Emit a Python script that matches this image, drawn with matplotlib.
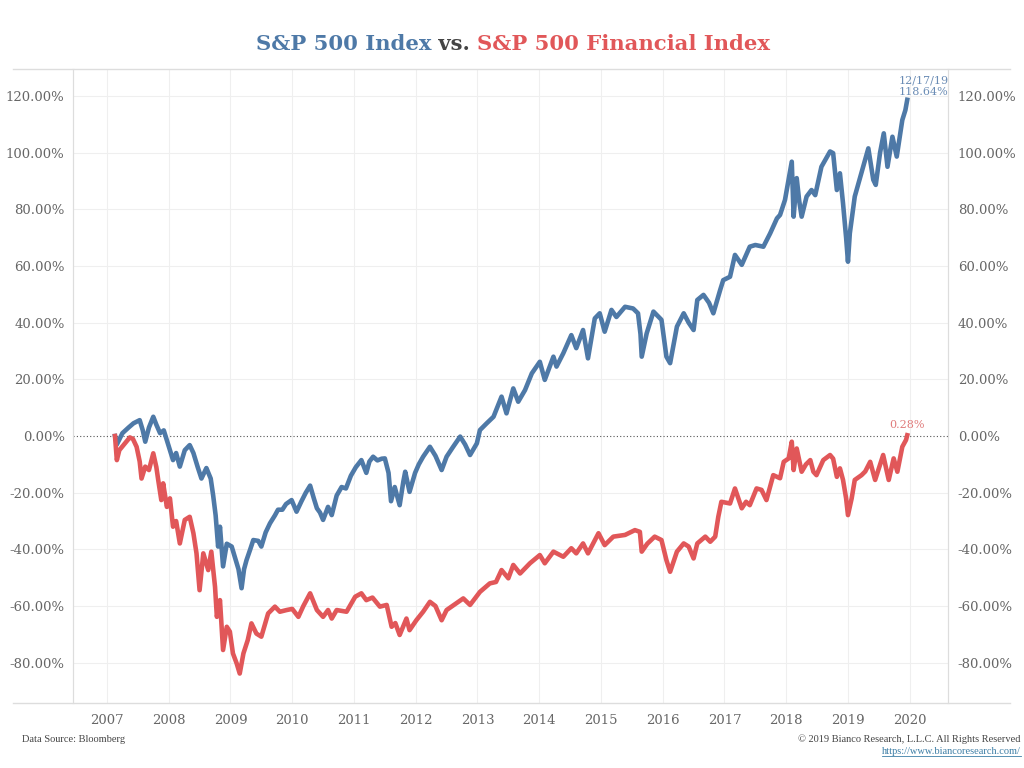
import matplotlib
matplotlib.use("Agg")
import matplotlib.pyplot as plt
from matplotlib.lines import Line2D
import numpy as np

BLUE = "#4e79a7"
RED = "#e15759"

blue_x = [2007.13, 2007.16, 2007.25, 2007.35, 2007.43, 2007.53, 2007.58, 2007.62, 2007.68, 2007.75,
          2007.80, 2007.86, 2007.92, 2008.02, 2008.07, 2008.12, 2008.18, 2008.26, 2008.34, 2008.40,
          2008.47, 2008.53, 2008.61, 2008.68, 2008.72, 2008.76, 2008.80, 2008.83, 2008.88, 2008.94,
          2009.02, 2009.07, 2009.13, 2009.18, 2009.22, 2009.26, 2009.32, 2009.37, 2009.45, 2009.50,
          2009.57, 2009.64, 2009.72, 2009.77, 2009.84, 2009.90, 2009.99, 2010.07, 2010.15, 2010.22,
          2010.29, 2010.35, 2010.40, 2010.45, 2010.50, 2010.58, 2010.64, 2010.72, 2010.80, 2010.87,
          2010.95, 2011.03, 2011.12, 2011.20, 2011.25, 2011.31, 2011.38, 2011.45, 2011.50, 2011.56,
          2011.60, 2011.66, 2011.74, 2011.80, 2011.83, 2011.90, 2011.99, 2012.05, 2012.12, 2012.23,
          2012.32, 2012.42, 2012.50, 2012.60, 2012.72, 2012.80, 2012.88, 2012.99, 2013.04, 2013.15,
          2013.26, 2013.39, 2013.47, 2013.58, 2013.66, 2013.77, 2013.88, 2014.01, 2014.09, 2014.23,
          2014.28, 2014.39, 2014.52, 2014.60, 2014.71, 2014.79, 2014.90, 2014.98, 2015.06, 2015.17,
          2015.25, 2015.39, 2015.52, 2015.60, 2015.64, 2015.66, 2015.74, 2015.85, 2015.98, 2016.06,
          2016.12, 2016.23, 2016.34, 2016.42, 2016.50, 2016.56, 2016.66, 2016.75, 2016.82, 2016.93,
          2016.98, 2017.09, 2017.17, 2017.28, 2017.41, 2017.50, 2017.63, 2017.74, 2017.85, 2017.90,
          2017.98, 2018.09, 2018.12, 2018.17, 2018.21, 2018.25, 2018.33, 2018.41, 2018.47, 2018.57,
          2018.71, 2018.76, 2018.82, 2018.87, 2018.92, 2018.97, 2019.00, 2019.03, 2019.11, 2019.20,
          2019.33, 2019.41, 2019.45, 2019.52, 2019.58, 2019.64, 2019.72, 2019.79, 2019.88, 2019.93,
          2019.96]
blue_y = [0.0, -3.0, 1.0, 3.0, 4.5, 5.6, 2.0, -2.0, 3.0, 6.8,
          4.0, 1.0, 2.0, -5.0, -8.5, -6.0, -10.8, -5.0, -3.2, -6.0,
          -11.0, -15.0, -11.3, -15.0, -21.0, -28.0, -39.0, -32.0, -46.0, -38.0,
          -39.0, -42.6, -47.0, -53.7, -47.0, -43.8, -40.0, -36.7, -37.0, -39.0,
          -34.0, -30.8, -28.0, -26.0, -26.0, -24.0, -22.6, -26.7, -23.0, -20.0,
          -17.5, -22.0, -25.5, -27.0, -29.6, -25.0, -27.9, -21.0, -18.0, -18.5,
          -14.0, -11.0, -8.5, -13.0, -9.0, -7.3, -8.6, -8.0, -7.9, -13.0,
          -23.0, -18.0, -24.4, -16.0, -12.6, -19.7, -13.0, -10.0, -7.3, -3.8,
          -7.0, -12.0, -7.3, -4.0, -0.2, -3.0, -6.7, -2.6, 2.1, 4.5,
          6.8, 13.9, 8.0, 16.8, 12.1, 16.2, 22.1, 26.2, 19.8, 28.0,
          24.5, 29.2, 35.6, 31.0, 37.4, 27.4, 41.5, 43.3, 36.8, 44.5,
          42.0, 45.6, 45.0, 43.3, 36.0, 28.0, 36.2, 43.9, 41.0, 28.0,
          25.7, 38.6, 43.3, 40.0, 37.4, 48.0, 49.8, 47.0, 43.3, 51.5,
          55.0, 56.2, 63.9, 60.4, 66.8, 67.4, 66.8, 71.5, 76.8, 78.0,
          83.3, 96.8, 77.4, 91.0, 83.0, 77.4, 84.5, 86.8, 85.0, 95.0,
          100.4, 99.8, 86.8, 92.7, 82.1, 70.0, 61.5, 71.5, 84.5, 91.5,
          101.5, 90.4, 88.6, 100.0, 106.8, 95.0, 105.6, 98.6, 111.5, 115.0,
          118.64]

red_x = [2007.13, 2007.16, 2007.20, 2007.29, 2007.37, 2007.42, 2007.48, 2007.53, 2007.56, 2007.62,
         2007.68, 2007.75, 2007.80, 2007.83, 2007.88, 2007.91, 2007.97, 2008.02, 2008.07, 2008.12,
         2008.18, 2008.26, 2008.34, 2008.40, 2008.45, 2008.50, 2008.56, 2008.64, 2008.69, 2008.75,
         2008.78, 2008.83, 2008.88, 2008.94, 2008.99, 2009.04, 2009.10, 2009.15, 2009.21, 2009.28,
         2009.34, 2009.42, 2009.50, 2009.61, 2009.72, 2009.80, 2009.91, 2010.00, 2010.10, 2010.18,
         2010.29, 2010.40, 2010.50, 2010.58, 2010.64, 2010.72, 2010.88, 2011.02, 2011.12, 2011.20,
         2011.30, 2011.42, 2011.53, 2011.61, 2011.67, 2011.74, 2011.85, 2011.90, 2012.01, 2012.12,
         2012.23, 2012.32, 2012.42, 2012.50, 2012.69, 2012.77, 2012.88, 2013.04, 2013.20, 2013.30,
         2013.39, 2013.50, 2013.58, 2013.69, 2013.85, 2014.01, 2014.09, 2014.23, 2014.39, 2014.52,
         2014.60, 2014.71, 2014.79, 2014.96, 2015.06, 2015.20, 2015.39, 2015.55, 2015.63, 2015.66,
         2015.75, 2015.87, 2015.98, 2016.06, 2016.12, 2016.23, 2016.34, 2016.42, 2016.50, 2016.56,
         2016.69, 2016.77, 2016.85, 2016.90, 2016.95, 2017.09, 2017.17, 2017.28, 2017.35, 2017.41,
         2017.52, 2017.60, 2017.68, 2017.79, 2017.90, 2017.96, 2018.04, 2018.09, 2018.12, 2018.17,
         2018.25, 2018.32, 2018.39, 2018.44, 2018.49, 2018.60, 2018.71, 2018.76, 2018.82, 2018.87,
         2018.92, 2018.97, 2019.00, 2019.06, 2019.11, 2019.22, 2019.28, 2019.36, 2019.44, 2019.57,
         2019.66, 2019.74, 2019.80, 2019.88, 2019.94, 2019.96]
red_y = [0.0, -8.5, -5.0, -2.6, -0.5, -1.0, -3.8, -9.0, -15.0, -10.8,
         -12.0, -6.1, -11.0, -15.5, -22.6, -16.7, -25.0, -22.0, -32.0, -30.0,
         -37.9, -29.6, -28.5, -34.3, -41.4, -54.4, -41.4, -47.3, -40.8, -53.2,
         -63.8, -57.9, -75.5, -67.3, -69.0, -76.7, -80.2, -83.8, -76.7, -72.0,
         -66.1, -69.7, -70.8, -62.6, -60.2, -62.0, -61.4, -61.0, -63.8, -60.0,
         -55.5, -61.4, -63.8, -61.4, -64.4, -61.4, -62.0, -56.7, -55.5, -57.9,
         -57.0, -60.2, -59.6, -67.3, -66.0, -70.2, -64.4, -68.5, -65.0, -62.0,
         -58.5, -60.0, -65.0, -61.4, -58.5, -57.3, -59.6, -55.0, -52.0, -51.5,
         -47.3, -50.2, -45.5, -48.5, -44.9, -42.0, -44.9, -40.8, -42.6, -39.6,
         -41.4, -37.9, -41.4, -34.3, -38.5, -35.5, -34.9, -33.2, -33.8, -40.8,
         -38.0, -35.5, -36.7, -43.8, -47.9, -40.8, -37.9, -39.0, -43.2, -37.9,
         -35.5, -37.3, -35.5, -28.5, -23.2, -23.8, -18.5, -25.5, -23.2, -24.4,
         -18.5, -19.0, -22.6, -13.8, -14.9, -9.1, -7.9, -2.0, -12.0, -4.4,
         -12.6, -10.0, -8.5, -12.6, -13.8, -8.5, -6.7, -8.0, -14.4, -11.4,
         -15.5, -22.0, -27.9, -22.0, -15.5, -13.8, -12.5, -9.1, -15.5, -6.7,
         -15.5, -7.9, -12.6, -3.8, -1.4, 0.28]

years = list(range(2007, 2021))
yticks = [-80, -60, -40, -20, 0, 20, 40, 60, 80, 100, 120]

SERIF = "DejaVu Serif"
TICKC = "#666666"

fig = plt.figure(figsize=(10.24, 7.68), dpi=100)
L, R, B, T = 73 / 1024, 948 / 1024, 1 - 703 / 768, 1 - 69 / 768
ax = fig.add_axes([L, B, R - L, T - B])
ax.set_xlim(2006.45, 2020.62)
ax.set_ylim(-94.2, 129.5)

for yv in yticks:
    if yv != 0:
        ax.axhline(yv, color="#efefef", lw=0.8, zorder=0)
for x in years:
    ax.axvline(x, color="#efefef", lw=0.8, zorder=0)
ax.axhline(0, color="#555555", lw=0.8, ls=(0, (1, 2)), zorder=1)

ax.plot(blue_x, blue_y, color=BLUE, lw=3.3, solid_joinstyle="round", zorder=3)
ax.plot(red_x, red_y, color=RED, lw=3.3, solid_joinstyle="round", zorder=3)

ax.set_yticks(yticks)
ax.set_yticklabels([f"{v:.2f}%" for v in yticks])
ax.set_xticks(years)
ax.set_xticklabels([str(y) for y in years])
ax.tick_params(axis="both", length=0, labelsize=9.5, labelcolor=TICKC, pad=6)
ax.tick_params(axis="x", pad=8)
for lab in ax.get_xticklabels() + ax.get_yticklabels():
    lab.set_fontfamily(SERIF)

ax2 = ax.twinx()
ax2.set_ylim(ax.get_ylim())
ax2.set_yticks(yticks)
ax2.set_yticklabels([f"{v:.2f}%" for v in yticks])
ax2.tick_params(axis="y", length=0, labelsize=9.5, labelcolor=TICKC, pad=7)
for lab in ax2.get_yticklabels():
    lab.set_fontfamily(SERIF)

for a in (ax, ax2):
    for s in ("top", "bottom"):
        a.spines[s].set_visible(False)
    a.spines["left"].set_color("#dddddd")
    a.spines["right"].set_color("#dddddd")

# full-width frame lines
fig.add_artist(Line2D([13 / 1024, 1010 / 1024], [T, T], color="#dddddd", lw=1.0))
fig.add_artist(Line2D([13 / 1024, 1010 / 1024], [B, B], color="#dddddd", lw=1.0))

# annotations
ax.annotate("12/17/19\n118.64%", xy=(blue_x[-1], blue_y[-1]), xytext=(12, 2),
            textcoords="offset points", ha="center", va="bottom",
            fontsize=8, color="#6a8cb5", family=SERIF, linespacing=1.25)
ax.annotate("0.28%", xy=(red_x[-1], red_y[-1]), xytext=(0, 4),
            textcoords="offset points", ha="center", va="bottom",
            fontsize=8, color="#e07b7b", family=SERIF)

# title in three colours
parts = [("S&P 500 Index", BLUE), (" vs. ", "#444444"), ("S&P 500 Financial Index", RED)]
renderer = fig.canvas.get_renderer()
texts = []
widths = []
for s, c in parts:
    t = fig.text(0, 1 - 44 / 768, s, color=c, fontsize=15.2, fontweight="bold",
                 family=SERIF, va="center", ha="left")
    texts.append(t)
    widths.append(t.get_window_extent(renderer).width)
total = sum(widths)
x0 = 513 - total / 2
for t, w in zip(texts, widths):
    t.set_x(x0 / 1024)
    x0 += w

fig.text(22 / 1024, 1 - 740 / 768, "Data Source: Bloomberg", fontsize=7.5,
         color="#444444", family="Liberation Serif", va="center", ha="left")
fig.text(1021 / 1024, 1 - 739 / 768, "\u00a9 2019 Bianco Research, L.L.C. All Rights Reserved",
         fontsize=7.5, color="#444444", family="Liberation Serif", va="center", ha="right")
url = fig.text(1021 / 1024, 1 - 751 / 768, "https://www.biancoresearch.com/",
               fontsize=7.5, color="#3d7ea6", family="Liberation Serif", va="center", ha="right")
uw = url.get_window_extent(renderer).width
fig.add_artist(Line2D([(1021 - uw) / 1024, 1021 / 1024], [1 - 756 / 768, 1 - 756 / 768],
                      color="#3d7ea6", lw=0.6))

fig.savefig("out.png", dpi=100, facecolor="white")
